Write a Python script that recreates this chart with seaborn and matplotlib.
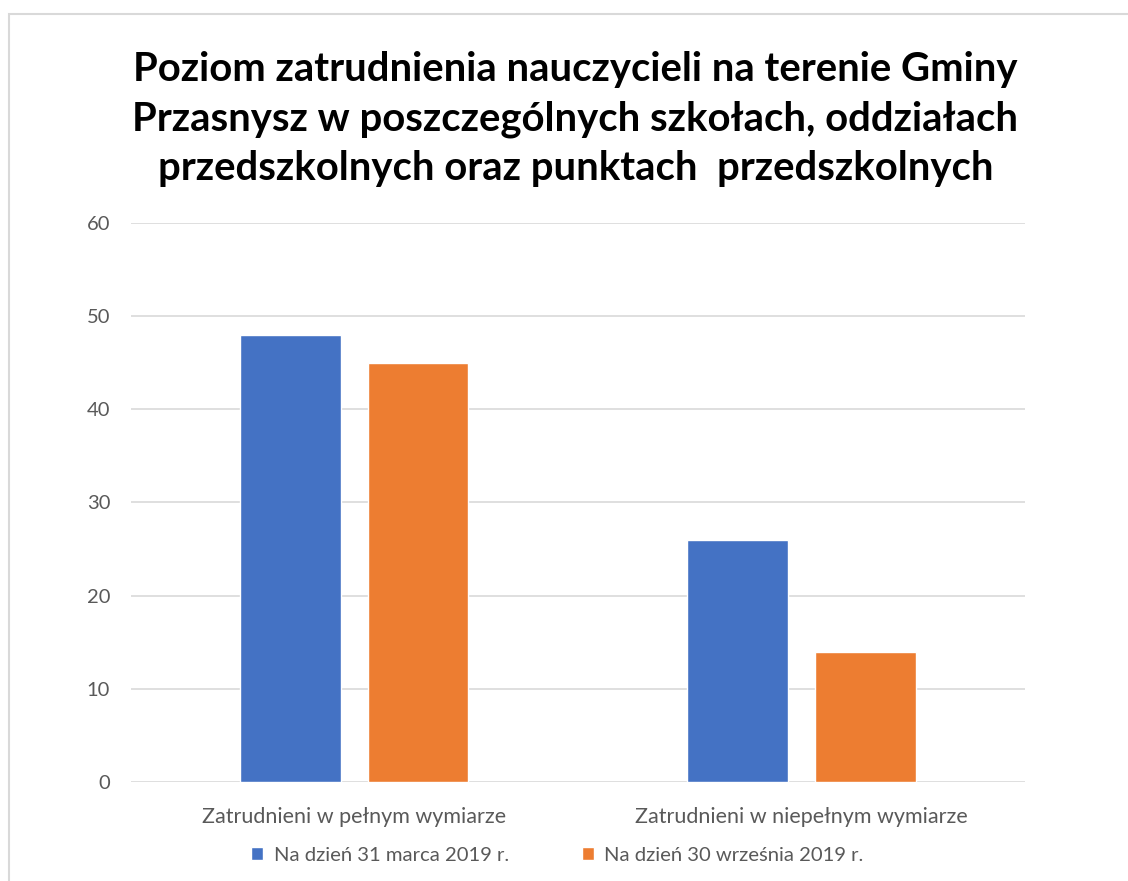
import matplotlib

matplotlib.use("Agg")

import matplotlib.pyplot as plt
import pandas as pd
import seaborn as sns
from matplotlib.patches import Rectangle

# Data
categories = ["Zatrudnieni w pełnym wymiarze", "Zatrudnieni w niepełnym wymiarze"]
series_names = ["Na dzień 31 marca 2019 r.", "Na dzień 30 września 2019 r."]
march_values = [48, 26]
september_values = [45, 14]
y_ticks = [0, 10, 20, 30, 40, 50, 60]

title = ("Poziom zatrudnienia nauczycieli na terenie Gminy\n"
         "Przasnysz w poszczególnych szkołach, oddziałach\n"
         "przedszkolnych oraz punktach  przedszkolnych")

df = pd.DataFrame({
    "Kategoria": categories * 2,
    "Seria": [series_names[0]] * 2 + [series_names[1]] * 2,
    "Wartość": march_values + september_values,
})

sns.set_theme(style="white")
plt.rcParams["font.family"] = ["Lato", "DejaVu Sans"]

fig = plt.figure(figsize=(11.28, 8.81), dpi=100)
ax = fig.add_axes([0.1161, 0.1124, 0.7926, 0.6345])

sns.barplot(
    data=df, x="Kategoria", y="Wartość", hue="Seria",
    palette=["#4472C4", "#ED7D31"], width=0.57, gap=0.21,
    saturation=1, ax=ax, legend=True,
)

ax.set_ylim(0, 60)
ax.set_yticks(y_ticks)
ax.set_xlim(-0.5, 1.5)
ax.yaxis.grid(True, color="#D9D9D9", linewidth=1.2)
ax.set_axisbelow(True)
ax.set_xlabel("")
ax.set_ylabel("")
sns.despine(ax=ax, left=True, bottom=True, top=True, right=True)
ax.tick_params(axis="both", length=0, colors="#595959")
ax.tick_params(axis="y", labelsize=14.5, pad=15)
ax.tick_params(axis="x", labelsize=15.5, pad=18)

handles, labels = ax.get_legend_handles_labels()
ax.legend_.remove()
fig.legend(
    handles, labels, loc="center", bbox_to_anchor=(0.494, 0.029),
    ncol=2, frameon=False, fontsize=14.6, handlelength=0.6, handleheight=0.6,
    columnspacing=3.6, handletextpad=0.5, labelcolor="#595959",
)

fig.text(0.51, 0.865, title, ha="center", va="center", fontsize=28.8,
         fontweight="bold", color="black", linespacing=1.4)

# chart frame (right and bottom edges fall outside the image)
fig.patches.append(Rectangle((9 / 1128, -0.1), 1.2, 1 - 14 / 881 + 0.1,
                             transform=fig.transFigure, fill=False,
                             edgecolor="#D9D9D9", linewidth=1.5))

fig.savefig("out.png", dpi=100)
plt.close(fig)
